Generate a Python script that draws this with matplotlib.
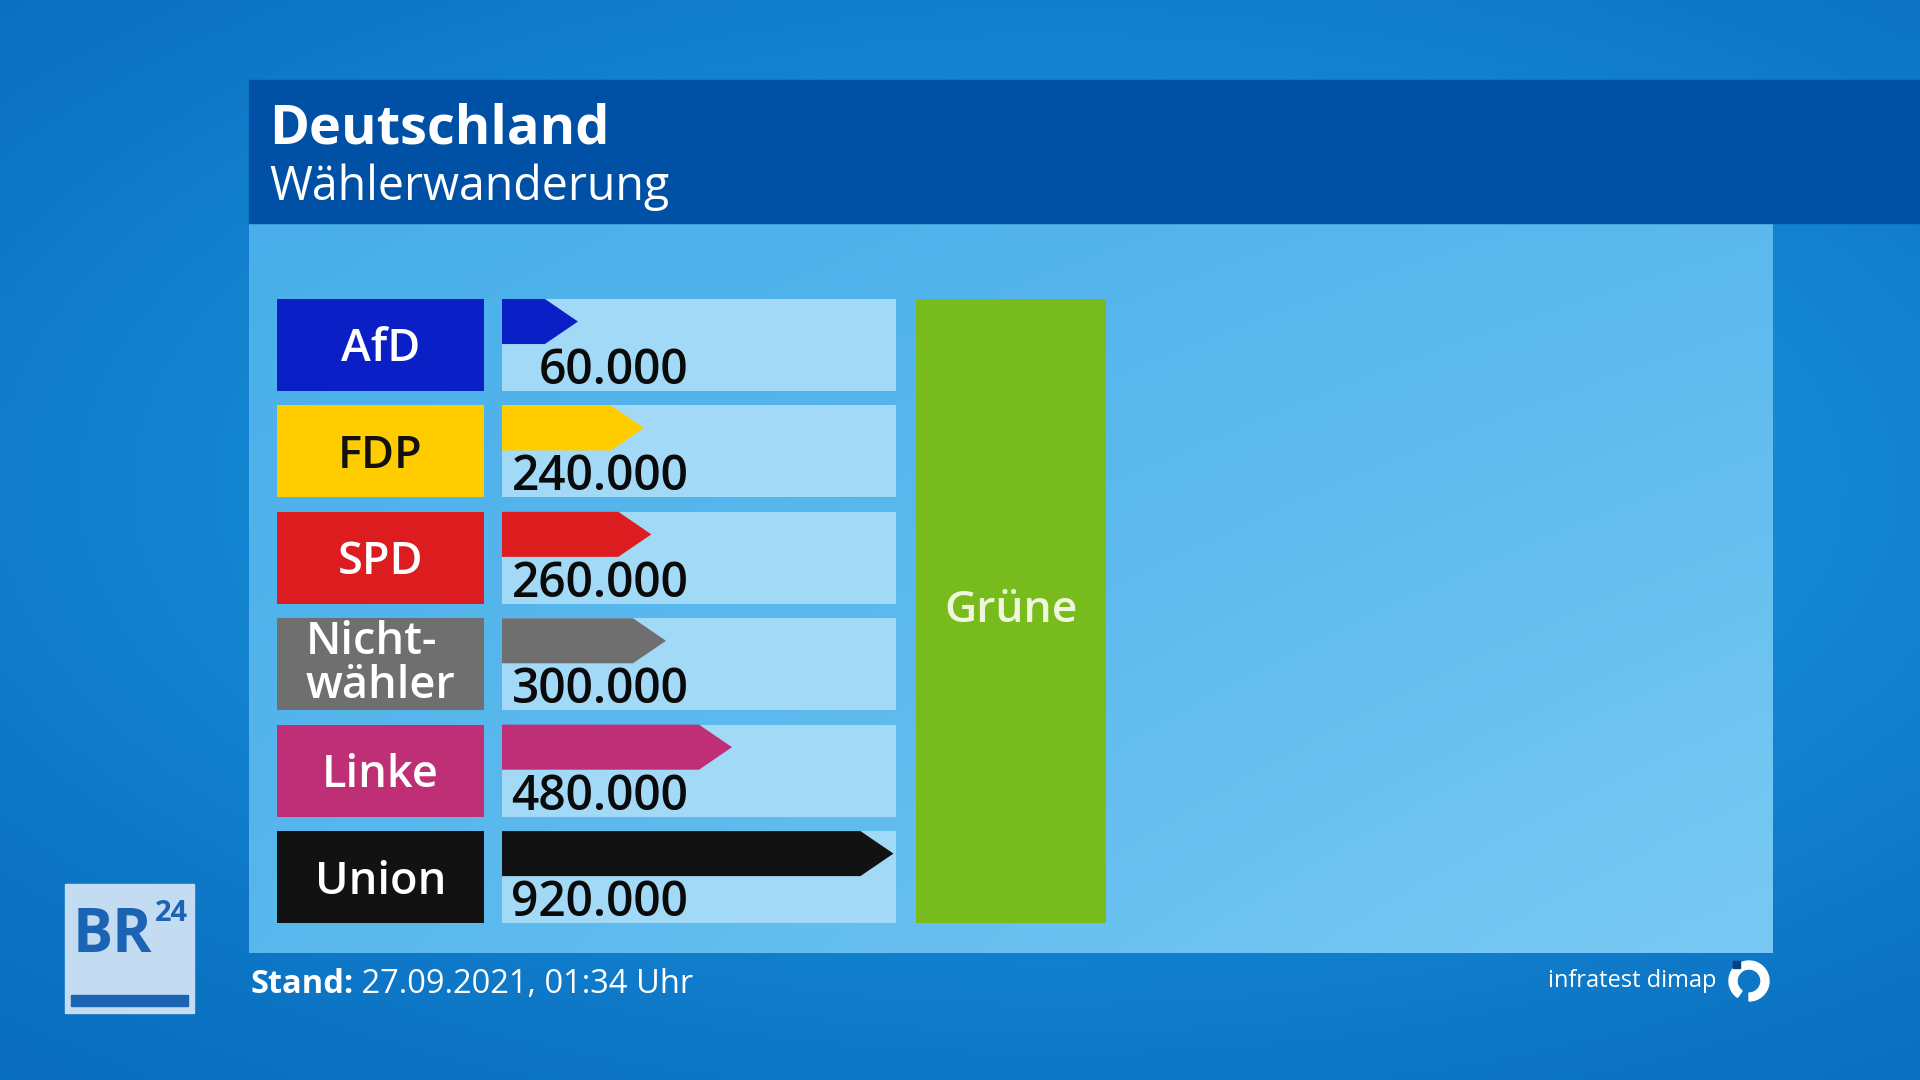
#!/usr/bin/env python3
"""Wählerwanderung zu den Grünen - BR24 / infratest dimap Grafik."""
import matplotlib
matplotlib.use('Agg')
import matplotlib.pyplot as plt
from matplotlib.patches import Rectangle, Polygon, Wedge
from matplotlib.colors import to_rgb
import numpy as np

# ─── Data ───────────────────────────────────────────────────────────
parties = ['AfD', 'FDP', 'SPD', 'Nicht-\nwähler', 'Linke', 'Union']
voters = [60000, 240000, 260000, 300000, 480000, 920000]
voter_labels = ['60.000', '240.000', '260.000', '300.000', '480.000', '920.000']
party_colors = ['#0a20c6', '#ffcc00', '#dc1c1e', '#6f6f6f', '#be2f75', '#121212']
label_colors = ['white', '#111111', 'white', 'white', 'white', 'white']
target = 'Grüne'
target_color = '#78bb1c'

title = 'Deutschland'
subtitle = 'Wählerwanderung'
stand_label = 'Stand:'
stand_value = '27.09.2021, 01:34 Uhr'
source = 'infratest dimap'

W, H = 1920, 1080
FONT = 'Open Sans'
plt.rcParams['font.family'] = [FONT, 'DejaVu Sans']


def px_rect(x0, y0, x1, y1):
    """pixel box (top-left origin) -> figure fraction rect"""
    return [x0 / W, 1 - y1 / H, (x1 - x0) / W, (y1 - y0) / H]


def gradient(c0, c1, weights):
    a, b = np.array(to_rgb(c0)), np.array(to_rgb(c1))
    return a[None, None, :] * (1 - weights[..., None]) + b[None, None, :] * weights[..., None]


fig = plt.figure(figsize=(W / 100, H / 100), dpi=100)
bg = fig.add_axes([0, 0, 1, 1])
bg.set_xlim(0, W)
bg.set_ylim(H, 0)
bg.axis('off')

# ─── Background ─────────────────────────────────────────────────────
yy, xx = np.mgrid[0:1:108j, 0:1:192j]
r2 = ((xx - 0.55) / 0.8) ** 2 + ((yy - 0.45) / 0.7) ** 2
bg.imshow(gradient('#0664b8', '#1c98e0', np.exp(-r2 * 1.6)), extent=(0, W, H, 0),
          aspect='auto', zorder=0, interpolation='bilinear')

# panel
py, pxg = np.mgrid[0:1:60j, 0:1:120j]
panel_w = np.clip(0.25 + 0.55 * pxg + 0.25 * py - 0.25 * (1 - py) * pxg, 0, 1)
bg.imshow(gradient('#3aa6e6', '#76c8f3', panel_w), extent=(249, 1773, 953, 223),
          aspect='auto', zorder=1, interpolation='bilinear')

# header band
bg.add_patch(Rectangle((249, 80), W - 249, 143, color='#0051a6', zorder=2))
bg.text(269, 143, title, color='white', fontsize=39, fontweight='bold',
        va='baseline', ha='left', zorder=3)
bg.text(269, 200, subtitle, color='white', fontsize=33.5, va='baseline', ha='left', zorder=3)

# ─── Rows ───────────────────────────────────────────────────────────
n = len(parties)
h = 92 / 106.5          # row height in row units
y = np.arange(n)
ylim = (n - 1 + h / 2, -h / 2)

ax_lab = fig.add_axes(px_rect(277, 299, 484, 923))
ax_bar = fig.add_axes(px_rect(502, 299, 896, 923), sharey=ax_lab)
ax_tg = fig.add_axes(px_rect(916, 299, 1106, 923), sharey=ax_lab)
for ax in (ax_lab, ax_bar, ax_tg):
    ax.axis('off')
ax_lab.set_ylim(*ylim)
ax_lab.set_xlim(0, 1)
ax_tg.set_xlim(0, 1)

x_tail, x_max = -57000, 1017000
tip = 90000
ax_bar.set_xlim(x_tail, x_max)

cap = 0.31  # cap height in row units
ax_lab.barh(y, 1, height=h, color=party_colors)
for i, (p, c) in enumerate(zip(parties, label_colors)):
    if '\n' in p:
        ax_lab.text(0.5, i + 0.0, p, color=c, fontsize=32.5, fontweight='semibold',
                    ha='center', va='center', multialignment='left', linespacing=0.98)
    else:
        ax_lab.text(0.5, i + cap / 2, p, color=c, fontsize=32.5, fontweight='semibold',
                    ha='center', va='baseline')

ax_bar.barh(y, x_max - x_tail, left=x_tail, height=h, color='#a2d9f6')
arrow_h = 0.49 * h
for i, (v, c, lbl) in enumerate(zip(voters, party_colors, voter_labels)):
    top = i - h / 2
    bot = top + arrow_h
    ax_bar.add_patch(Polygon([(x_tail, top), (v, top), (v + tip, (top + bot) / 2),
                              (v, bot), (x_tail, bot)], closed=True, color=c, lw=0))
    ax_bar.text(451000, i + h / 2 - 0.065, lbl, color='#0a0a0a', fontsize=34.5,
                fontweight='semibold', ha='right', va='baseline')

ax_tg.barh((n - 1) / 2, 1, height=n - 1 + h, color=target_color)
ax_tg.text(0.5, (n - 1) / 2, target, color='#eef6dc', fontsize=32, fontweight='semibold',
           ha='center', va='center')

# ─── Footer ─────────────────────────────────────────────────────────
t1 = bg.text(250, 993, stand_label, color='white', fontsize=23.5, fontweight='bold',
             ha='left', va='baseline', zorder=3)
bg.annotate(' ' + stand_value, xy=(1, 0), xycoords=t1, color='white', fontsize=23.5,
            ha='left', va='bottom', zorder=3)

bg.text(1716, 981, source, color='white', fontsize=17, ha='right', va='center', zorder=3)
bg.add_patch(Wedge((1749, 981), 20, -235, 90, width=8, color='white', zorder=3))
bg.add_patch(Rectangle((1733, 961), 7, 7, color='#0a3f80', zorder=3))

# BR24 logo
bg.add_patch(Rectangle((65, 884), 129, 129, color='#c4dcf1', zorder=3))
bg.add_patch(Rectangle((71, 995), 117, 11, color='#1b63b3', zorder=4))
bg.text(73, 952, 'BR', color='#1b63b3', fontsize=43, fontweight='bold', ha='left',
        va='baseline', zorder=4)
bg.text(155, 921, '24', color='#1b63b3', fontsize=21, fontweight='bold', ha='left',
        va='baseline', zorder=4)

fig.savefig('out.png', dpi=100, facecolor='#0a6fc0')
print('Saved out.png')
